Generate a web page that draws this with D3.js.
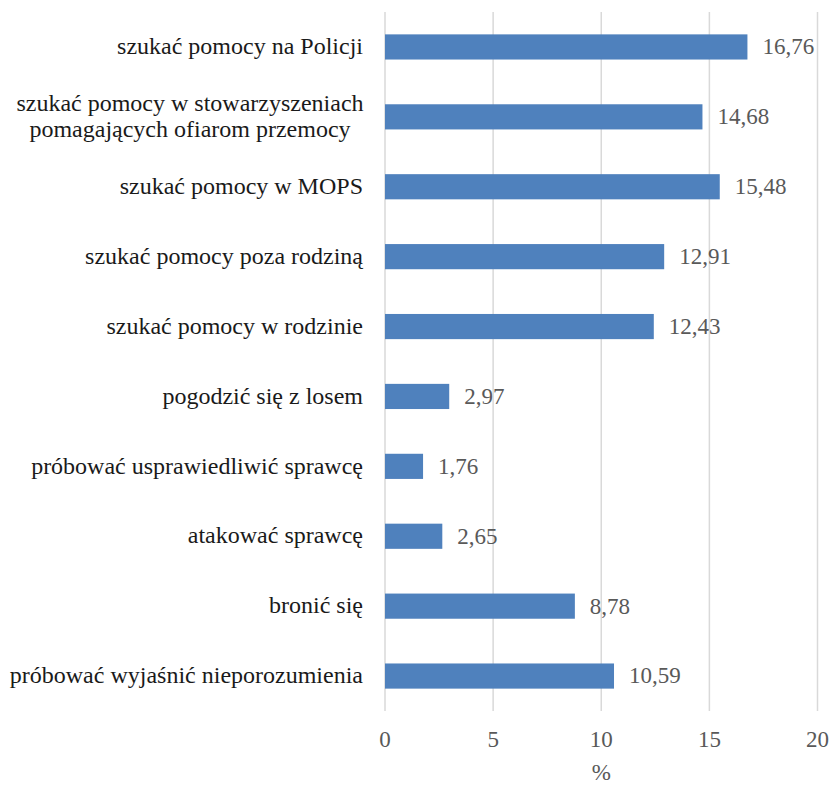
<!DOCTYPE html>
<html>
<head>
<meta charset="utf-8">
<script src="https://cdn.jsdelivr.net/npm/d3@7"></script>
<style>
body{margin:0;background:#fff;}
svg text, svg tspan{font-family:'Liberation Serif' !important;}
</style>
</head>
<body>
<script>
var categories=["szukać pomocy na Policji","szukać pomocy w stowarzyszeniach\npomagających ofiarom przemocy","szukać pomocy w MOPS","szukać pomocy poza rodziną","szukać pomocy w rodzinie","pogodzić się z losem","próbować usprawiedliwić sprawcę","atakować sprawcę","bronić się","próbować wyjaśnić nieporozumienia"];
var values=[16.76,14.68,15.48,12.91,12.43,2.97,1.76,2.65,8.78,10.59];
var xticks=[0,5,10,15,20];
var axis_title="%";

var width=832,height=785;
var svg=d3.select("body").append("svg").attr("width",width).attr("height",height)
	.attr("font-family","Liberation Serif");

var xscale=d3.scaleLinear().domain([0,20]).range([385,817.5]);
var yscale=d3.scaleBand().domain(categories).range([12,711]).paddingInner(0.64).paddingOuter(0.32);

// gridlines
svg.append("g").selectAll("line").data(xticks).enter().append("line")
	.attr("x1",function(d){return xscale(d);}).attr("x2",function(d){return xscale(d);})
	.attr("y1",12).attr("y2",711)
	.attr("stroke","#d9d9d9").attr("stroke-width",1.5);

// bars
svg.append("g").selectAll("rect").data(values).enter().append("rect")
	.attr("x",xscale(0))
	.attr("y",function(d,i){return yscale(categories[i]);})
	.attr("width",function(d){return xscale(d)-xscale(0);})
	.attr("height",yscale.bandwidth())
	.attr("fill","#4f81bd");

// value labels
svg.append("g").selectAll("text").data(values).enter().append("text")
	.style("font-family",function(){return "'Liberation Serif'";})
	.attr("x",function(d){return xscale(d)+15;})
	.attr("y",function(d,i){return yscale(categories[i])+yscale.bandwidth()/2;})
	.attr("dy","0.32em")
	.attr("fill","#595959").attr("font-size",23)
	.text(function(d){return d.toFixed(2).replace(".",",");});

// category labels
var cat=svg.append("g").selectAll("text").data(categories).enter().append("text")
	.style("font-family",function(){return "'Liberation Serif'";})
	.attr("fill","#1a1a1a").attr("font-size",24)
	.attr("y",function(d){return yscale(d)+yscale.bandwidth()/2;});
cat.each(function(d){
	var lines=d.split("\n");
	var t=d3.select(this);
	if(lines.length==1){
		t.attr("x",363).attr("text-anchor","end").attr("dy","0.3em").text(d);
	}else{
		t.attr("x",190).attr("text-anchor","middle");
		lines.forEach(function(l,k){
			t.append("tspan").attr("x",190).attr("dy",k==0?-6:26).text(l);
		});
	}
});

// x axis tick labels
svg.append("g").selectAll("text").data(xticks).enter().append("text")
	.style("font-family",function(){return "'Liberation Serif'";})
	.attr("x",function(d){return xscale(d);}).attr("y",740).attr("dy","0.32em")
	.attr("text-anchor","middle").attr("fill","#595959").attr("font-size",23)
	.text(function(d){return d;});

svg.append("text").style("font-family",function(){return "'Liberation Serif'";})
	.attr("x",xscale(10)).attr("y",773).attr("dy","0.32em")
	.attr("text-anchor","middle").attr("fill","#595959").attr("font-size",23)
	.text(axis_title);
</script>
</body>
</html>
